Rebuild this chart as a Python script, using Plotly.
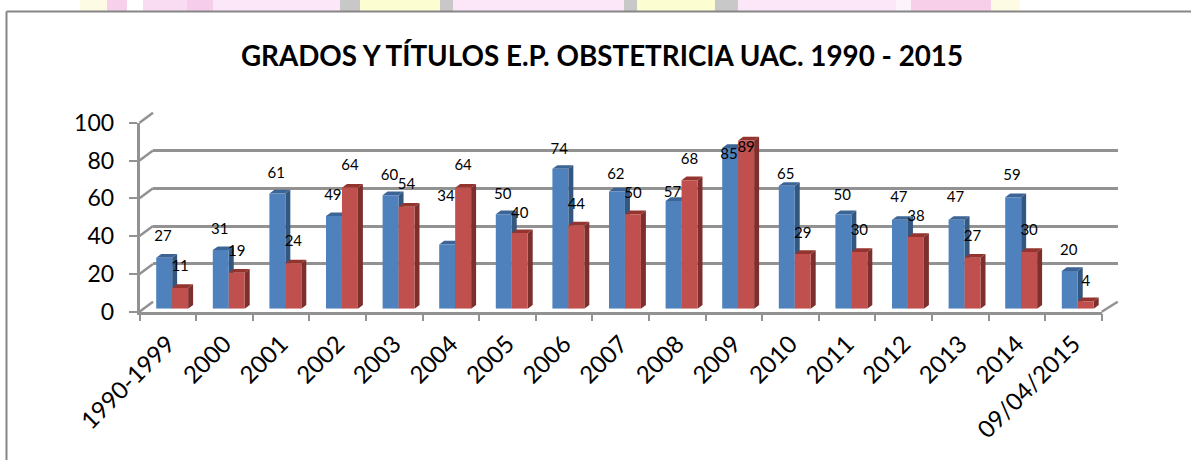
import plotly.graph_objects as go

# Data
categories = ['1990-1999', '2000', '2001', '2002', '2003', '2004', '2005', '2006', '2007',
              '2008', '2009', '2010', '2011', '2012', '2013', '2014', '09/04/2015']
blue_values = [27, 31, 61, 49, 60, 34, 50, 74, 62, 57, 85, 65, 50, 47, 47, 59, 20]
red_values = [11, 19, 24, 64, 54, 64, 40, 44, 50, 68, 89, 29, 30, 38, 27, 30, 4]
y_ticks = [0, 20, 40, 60, 80, 100]

# how far each data label sits above its bar, in pixels
blue_label_rise = [20, 20, 19, 20, 19, 47, 19, 19, 16, 8, -7, 11, 18, 22, 22, 21, 20]
red_label_rise = [21, 21, 21, 21, 21, 21, 19, 20, 20, 20, -8, 20, 21, 20, 20, 21, 19]

# watermark showing above the frame: start px, end px, colour
strip = [
    (80, 107, '#fdfbe4'), (107, 127, '#f7d0ec'), (143, 187, '#f9dcf2'), (187, 213, '#f6cdea'),
    (213, 340, '#fbe7f8'), (340, 360, '#c8c8c8'), (360, 440, '#fdfdd2'), (440, 453, '#c8c8c8'),
    (453, 624, '#fbe7f8'), (624, 637, '#c8c8c8'), (637, 715, '#fdfdd2'), (715, 738, '#c8c8c8'),
    (738, 896, '#fbe7f8'), (896, 911, '#fdf3fb'), (911, 991, '#f7cfe9'), (991, 1020, '#fdfbe4'),
]

WIDTH, HEIGHT = 1191, 460
GRAY = '#929292'
LINE_W = 2.5
FONT = 'Lato'
PX_PER_UNIT = 1.89
BAR_W = 0.282
DEPTH_X = 0.088
DEPTH_Y = 1.96


def xp(px):
    return px / WIDTH


def yp(py):
    return 1 - py / HEIGHT


def side_faces(values, left):
    xs, ys = [], []
    for i, v in enumerate(values):
        r = i + left + BAR_W
        xs += [r, r + DEPTH_X, r + DEPTH_X, r, r, None]
        ys += [0, DEPTH_Y, v + DEPTH_Y, v, 0, None]
    return xs, ys


def top_faces(values, left):
    xs, ys = [], []
    for i, v in enumerate(values):
        l = i + left
        r = l + BAR_W
        xs += [l, l + DEPTH_X, r + DEPTH_X, r, l, None]
        ys += [v, v + DEPTH_Y, v + DEPTH_Y, v, v, None]
    return xs, ys


def face(xy, color, axes):
    return go.Scatter(x=xy[0], y=xy[1], mode='lines', fill='toself', fillcolor=color,
                      line=dict(width=0, color=color), hoverinfo='skip',
                      xaxis=axes[0], yaxis=axes[1])


positions = list(range(len(categories)))
fig = go.Figure()

# back wall, only there to carry the gridlines
fig.add_trace(go.Scatter(x=[0], y=[0], mode='none', hoverinfo='skip', xaxis='x', yaxis='y'))

# depth faces go under the front faces
fig.add_trace(face(side_faces(blue_values, -BAR_W), '#34577f', ('x2', 'y2')))
fig.add_trace(face(top_faces(blue_values, -BAR_W), '#3c6494', ('x2', 'y2')))
fig.add_trace(face(side_faces(red_values, 0), '#7d2f2d', ('x2', 'y2')))
fig.add_trace(face(top_faces(red_values, 0), '#93342f', ('x2', 'y2')))

# front faces
fig.add_trace(go.Bar(x=positions, y=blue_values, width=BAR_W, offset=-BAR_W,
                     marker=dict(color='#4f81bd', line=dict(width=0)), xaxis='x3', yaxis='y3'))
fig.add_trace(go.Bar(x=positions, y=red_values, width=BAR_W, offset=0,
                     marker=dict(color='#c0504d', line=dict(width=0)), xaxis='x3', yaxis='y3'))

# data labels
fig.add_trace(go.Scatter(x=[i - BAR_W / 2 - 0.02 for i in positions],
                         y=[v + r / PX_PER_UNIT for v, r in zip(blue_values, blue_label_rise)],
                         mode='text', text=[str(v) for v in blue_values], cliponaxis=False,
                         textfont=dict(family=FONT, size=15, color='#000000'), xaxis='x3', yaxis='y3'))
fig.add_trace(go.Scatter(x=[i + BAR_W / 2 for i in positions],
                         y=[v + r / PX_PER_UNIT for v, r in zip(red_values, red_label_rise)],
                         mode='text', text=[str(v) for v in red_values], cliponaxis=False,
                         textfont=dict(family=FONT, size=15, color='#000000'), xaxis='x3', yaxis='y3'))

# front axes with the tick labels
fig.add_trace(go.Scatter(x=categories, y=[0] * len(categories), mode='none', hoverinfo='skip',
                         xaxis='x4', yaxis='y4'))

bar_range = [-0.577, 16.423]
bar_domain_x = [xp(139.5), xp(1101.7)]
bar_domain_y = [yp(308.7), yp(119.7)]
hidden = dict(visible=False, fixedrange=True)

fig.update_layout(
    template='none',
    width=WIDTH,
    height=HEIGHT,
    margin=dict(l=0, r=0, t=0, b=0),
    paper_bgcolor='white',
    plot_bgcolor='rgba(0,0,0,0)',
    showlegend=False,
    barmode='overlay',
    title=dict(text='<b>GRADOS Y TÍTULOS E.P. OBSTETRICIA UAC. 1990 - 2015</b>',
               x=xp(602), xanchor='center', y=yp(56), yanchor='middle',
               font=dict(family=FONT, size=27.8, color='#000000')),
    xaxis=dict(domain=[xp(153), xp(1117.7)], range=[0, 1], showgrid=False, zeroline=False,
               showticklabels=False, ticks='', anchor='y'),
    yaxis=dict(domain=[yp(301.7), yp(112.7)], range=[0, 100], tickvals=y_ticks, showgrid=True,
               gridcolor=GRAY, gridwidth=LINE_W, zeroline=False, showticklabels=False, ticks='', anchor='x'),
    xaxis2=dict(domain=bar_domain_x, range=bar_range, anchor='y2', **hidden),
    yaxis2=dict(domain=bar_domain_y, range=[0, 100], anchor='x2', **hidden),
    xaxis3=dict(domain=bar_domain_x, range=bar_range, anchor='y3', **hidden),
    yaxis3=dict(domain=bar_domain_y, range=[0, 100], anchor='x3', **hidden),
    xaxis4=dict(domain=bar_domain_x, type='category', categoryorder='array', categoryarray=categories,
                range=[-0.5, 16.5], anchor='y4', tickson='boundaries', ticks='outside', ticklen=7,
                tickwidth=2, tickcolor=GRAY, showline=True, linewidth=LINE_W, linecolor=GRAY,
                showgrid=False, tickangle=-45, ticklabelstandoff=6,
                tickfont=dict(family=FONT, size=24, color='#000000')),
    yaxis4=dict(domain=[yp(311.7), yp(122.7)], range=[0, 100], tickvals=y_ticks, anchor='x4',
                ticks='outside', ticklen=8, tickwidth=2, tickcolor=GRAY, showline=True, linewidth=LINE_W,
                linecolor=GRAY, showgrid=False, zeroline=False, ticklabelstandoff=10,
                tickfont=dict(family=FONT, size=23, color='#000000')),
)

# side-wall diagonals joining front ticks to the back gridlines
for t in y_ticks:
    drop = (100 - t) * PX_PER_UNIT
    fig.add_shape(type='line', xref='paper', yref='paper', layer='below',
                  x0=xp(139.5), y0=yp(122.7 + drop), x1=xp(153), y1=yp(112.7 + drop),
                  line=dict(color=GRAY, width=LINE_W))
fig.add_shape(type='line', xref='paper', yref='paper', layer='below',
              x0=xp(1101.7), y0=yp(311.7), x1=xp(1117.7), y1=yp(301.7), line=dict(color=GRAY, width=LINE_W))

# watermark strip and the picture frame
for start, end, color in strip:
    fig.add_shape(type='rect', xref='paper', yref='paper', layer='below', x0=xp(start), x1=xp(end),
                  y0=yp(11), y1=yp(0), fillcolor=color, line=dict(width=0))
fig.add_shape(type='line', xref='paper', yref='paper', layer='below', x0=xp(6.5), x1=xp(1191),
              y0=yp(11.5), y1=yp(11.5), line=dict(color='#868686', width=2))
fig.add_shape(type='line', xref='paper', yref='paper', layer='below', x0=xp(6.5), x1=xp(6.5),
              y0=yp(11.5), y1=yp(460), line=dict(color='#868686', width=2))

fig.write_html("out.html", config=dict(displayModeBar=False),
               post_script="document.body.style.margin='0';document.body.style.overflow='hidden';")
